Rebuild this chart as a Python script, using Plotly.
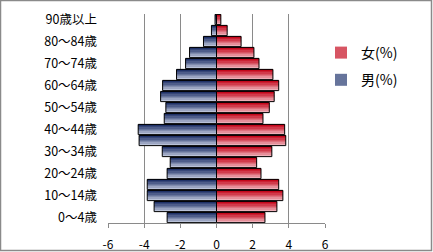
import plotly.graph_objects as go

# ---- data ----
categories = ["0～4歳", "5～9歳", "10～14歳", "15～19歳", "20～24歳", "25～29歳",
              "30～34歳", "35～39歳", "40～44歳", "45～49歳", "50～54歳", "55～59歳",
              "60～64歳", "65～69歳", "70～74歳", "75～79歳", "80～84歳", "85～89歳",
              "90歳以上"]
male = [-2.73, -3.45, -3.83, -3.83, -2.73, -2.56, -3.0, -4.28, -4.33, -2.89,
        -2.8, -3.09, -2.98, -2.21, -1.71, -1.49, -0.72, -0.28, -0.08]
female = [2.68, 3.34, 3.67, 3.44, 2.46, 2.22, 3.06, 3.83, 3.77, 2.57,
          2.92, 3.19, 3.44, 3.12, 2.35, 2.07, 1.36, 0.59, 0.24]
shown_ticks = ["0～4歳", "10～14歳", "20～24歳", "30～34歳", "40～44歳",
               "50～54歳", "60～64歳", "70～74歳", "80～84歳", "90歳以上"]
x_ticks = [-6, -4, -2, 0, 2, 4, 6]

W = 0.93
N = 8

def lerp(c1, c2, t):
    return "rgb(%d,%d,%d)" % tuple(round(a + (b - a) * t) for a, b in zip(c1, c2))

series = [
    ("男(%)", male, (32, 50, 104), (226, 232, 246), 2),
    ("女(%)", female, (196, 8, 28), (250, 220, 226), 1),
]

fig = go.Figure()
for name, vals, dark, light, rank in series:
    for k in range(N):
        t = (k / (N - 1)) ** 0.8
        fig.add_trace(go.Bar(y=categories, x=vals, orientation="h", name=name,
                             width=W / N, offset=-W / 2 + k * W / N,
                             marker=dict(color=lerp(light, dark, t), line=dict(width=0)),
                             legendgroup=name, legendrank=rank,
                             showlegend=(k == N // 2), hoverinfo="skip"))
    fig.add_trace(go.Bar(y=categories, x=vals, orientation="h", width=W, offset=-W / 2,
                         marker=dict(color="rgba(0,0,0,0)", line=dict(color="#000", width=1)),
                         showlegend=False, hoverinfo="skip"))

L, R, T, B = 108, 108, 14, 29
PW, PH = 433 - L - R, 252 - T - B

fig.update_layout(
    width=433, height=252,
    margin=dict(l=L, r=R, t=T, b=B, pad=0),
    barmode="overlay",
    paper_bgcolor="white", plot_bgcolor="white",
    font=dict(family="Noto Sans CJK JP", size=12, color="#000"),
    showlegend=True,
    legend=dict(x=(321 - L) / PW, y=1 - (37 - T) / PH, xanchor="left", yanchor="top",
                traceorder="grouped", tracegroupgap=6, bgcolor="rgba(0,0,0,0)",
                font=dict(size=14), itemwidth=30),
    xaxis=dict(range=[-6, 6], tickvals=x_ticks, ticktext=[str(v) for v in x_ticks],
               showgrid=True, gridcolor="#8a8a8a", gridwidth=1, zeroline=True,
               zerolinecolor="#666", zerolinewidth=1, showline=True, linecolor="#8a8a8a",
               ticks="outside", ticklen=4, tickcolor="#8a8a8a", ticklabelstandoff=7,
               automargin=False, fixedrange=True),
    yaxis=dict(type="category", categoryorder="array", categoryarray=categories,
               tickvals=shown_ticks, ticktext=shown_ticks, showgrid=False,
               ticks="", ticklabelstandoff=10, showline=False, fixedrange=True,
               automargin=False, tickfont=dict(size=12.5)),
    shapes=[dict(type="rect", xref="paper", yref="paper",
                 x0=-L / PW + 0.5 / PW, x1=1 + (R - 1.5) / PW,
                 y0=-(B - 1.5) / PH, y1=1 + (T - 0.5) / PH,
                 line=dict(color="#8a8a8a", width=1.5), layer="below")],
)

fig.write_html("out.html")
